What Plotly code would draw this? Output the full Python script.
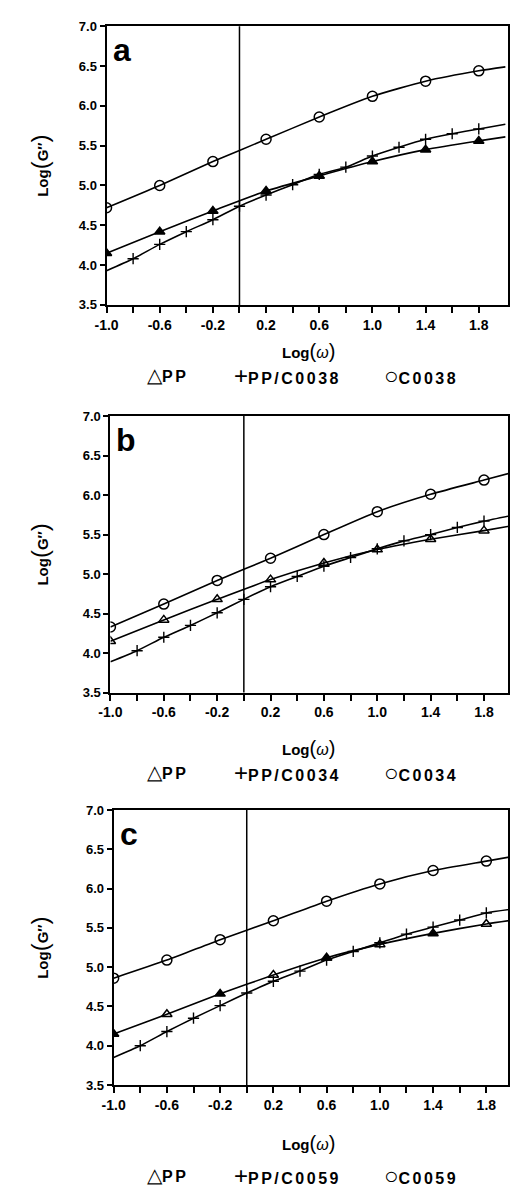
import plotly.graph_objects as go

# ---- data ----
x_main = [-1.0, -0.6, -0.2, 0.2, 0.6, 1.0, 1.4, 1.8, 2.0]
x_plus = [-1.0, -0.8, -0.6, -0.4, -0.2, 0.0, 0.2, 0.4, 0.6, 0.8, 1.0, 1.2, 1.4, 1.6, 1.8, 2.0]

# panel a
a_pp = [4.15, 4.42, 4.68, 4.93, 5.12, 5.30, 5.45, 5.56, 5.61]
a_blend = [3.93, 4.08, 4.26, 4.42, 4.57, 4.74, 4.88, 5.01, 5.14, 5.23, 5.37, 5.48, 5.58, 5.65, 5.71, 5.77]
a_c = [4.72, 5.00, 5.30, 5.58, 5.86, 6.12, 6.31, 6.44, 6.49]

# panel b
b_pp = [4.15, 4.42, 4.68, 4.93, 5.14, 5.31, 5.44, 5.55, 5.61]
b_blend = [3.89, 4.03, 4.20, 4.35, 4.51, 4.68, 4.84, 4.97, 5.10, 5.21, 5.32, 5.42, 5.50, 5.59, 5.67, 5.74]
b_c = [4.33, 4.62, 4.92, 5.20, 5.50, 5.79, 6.01, 6.19, 6.28]

# panel c
c_pp = [4.15, 4.40, 4.66, 4.90, 5.12, 5.29, 5.43, 5.55, 5.60]
c_blend = [3.85, 4.00, 4.18, 4.35, 4.51, 4.67, 4.82, 4.95, 5.09, 5.20, 5.31, 5.42, 5.51, 5.60, 5.69, 5.74]
c_c = [4.86, 5.09, 5.35, 5.59, 5.84, 6.06, 6.23, 6.35, 6.41]

panel_labels = ["a", "b", "c"]
blend_names = ["PP/C0038", "PP/C0034", "PP/C0059"]
comp_names = ["C0038", "C0034", "C0059"]
y_ticks = [3.5, 4.0, 4.5, 5.0, 5.5, 6.0, 6.5, 7.0]
x_major = [-1.0, -0.6, -0.2, 0.2, 0.6, 1.0, 1.4, 1.8]
x_labels = ["-1.0", "-0.6", "-0.2", "0.2", "0.6", "1.0", "1.4", "1.8"]
x_minor = [-0.8, -0.4, 0.0, 0.4, 0.8, 1.2, 1.6]

panels = [(a_pp, a_blend, a_c), (b_pp, b_blend, b_c), (c_pp, c_blend, c_c)]

# ---- layout geometry (pixels) ----
W, H = 510, 1192
geo = [
    dict(left=97, right=509, top=19.5, bottom=301.7, xmax=2.02, ttl=348, leg=373),
    dict(left=101, right=509, top=414.3, bottom=694.3, xmax=1.98, ttl=750, leg=775),
    dict(left=104.3, right=509, top=813.3, bottom=1091.7, xmax=1.963, ttl=1150, leg=1183),
]
pp_symbols = [
    ["triangle-up"] * 8,
    ["triangle-up-open"] * 8,
    ["triangle-up", "triangle-up-open", "triangle-up", "triangle-up-open",
     "triangle-up", "triangle-up-open", "triangle-up", "triangle-up-open"],
]

FONT = "Liberation Sans, Arial, sans-serif"
fig = go.Figure()
annotations = []
shapes = []

PAREN = "<span style='font-weight:normal;font-size:%dpx'>%s</span>"

for i, (pp, blend, comp) in enumerate(panels):
    n = "" if i == 0 else str(i + 1)
    xa, ya = "x" + n, "y" + n
    g = geo[i]
    line = dict(color="black", width=1.6, shape="spline", smoothing=0.6)
    for ys, xs in [(pp, x_main), (blend, x_plus), (comp, x_main)]:
        fig.add_trace(go.Scatter(x=xs, y=ys, mode="lines", line=line,
                                 xaxis=xa, yaxis=ya, showlegend=False, hoverinfo="skip"))
    fig.add_trace(go.Scatter(x=x_main[:-1], y=pp[:-1], mode="markers",
                             marker=dict(symbol=pp_symbols[i], size=9, color="black",
                                         line=dict(color="black", width=1.5)),
                             xaxis=xa, yaxis=ya, showlegend=False))
    fig.add_trace(go.Scatter(x=x_plus[1:-1], y=blend[1:-1], mode="markers",
                             marker=dict(symbol="line-ns", size=8, color="black",
                                         line=dict(color="black", width=1.4)),
                             xaxis=xa, yaxis=ya, showlegend=False))
    fig.add_trace(go.Scatter(x=x_plus[1:-1], y=blend[1:-1], mode="markers",
                             marker=dict(symbol="line-ew", size=8, color="black",
                                         line=dict(color="black", width=1.4)),
                             xaxis=xa, yaxis=ya, showlegend=False))
    fig.add_trace(go.Scatter(x=x_main[:-1], y=comp[:-1], mode="markers",
                             marker=dict(symbol="circle-open", size=10, color="black",
                                         line=dict(color="black", width=1.5)),
                             xaxis=xa, yaxis=ya, showlegend=False))

    xd = [g["left"] / W, g["right"] / W]
    yd = [1 - g["bottom"] / H, 1 - g["top"] / H]
    fig.update_layout(**{
        "xaxis" + n: dict(domain=xd, range=[-1.0, g["xmax"]], anchor=ya,
                          tickmode="array", tickvals=x_major, ticktext=x_labels,
                          ticks="outside", ticklen=6,
                          tickwidth=1.6, tickcolor="black", showline=True, linewidth=2,
                          linecolor="black", mirror=True, showgrid=False, zeroline=False,
                          minor=dict(tickmode="array", tickvals=x_minor, ticks="outside",
                                     ticklen=6, tickwidth=1.6, tickcolor="black",
                                     showgrid=False),
                          tickfont=dict(family=FONT, size=14, color="black", weight="bold")),
        "yaxis" + n: dict(domain=yd, range=[3.5, 7.0], anchor=xa,
                          tickvals=y_ticks, ticktext=[f"{v:.1f}" for v in y_ticks],
                          ticks="outside", ticklen=5, tickwidth=1.6, tickcolor="black",
                          showline=True, linewidth=2, linecolor="black", mirror=True,
                          showgrid=False, zeroline=False,
                          tickfont=dict(family=FONT, size=13, color="black", weight="bold")),
    })
    shapes.append(dict(type="line", xref=xa, yref=ya + " domain", x0=0, x1=0, y0=0, y1=1,
                       line=dict(color="black", width=1.5)))
    # panel letter
    annotations.append(dict(text=panel_labels[i], xref="paper", yref="paper",
                            x=(g["left"] + 16) / W, y=1 - (g["top"] + 24) / H,
                            xanchor="center", yanchor="middle", showarrow=False,
                            font=dict(family=FONT, size=32, color="black", weight="bold")))
    # y title
    annotations.append(dict(text="Log" + PAREN % (24, "(") + "G″" + PAREN % (24, ")"),
                            xref="paper", yref="paper", x=28 / W,
                            y=1 - (g["top"] + g["bottom"]) / 2 / H, textangle=-90,
                            xanchor="center", yanchor="middle", showarrow=False,
                            font=dict(family=FONT, size=15, color="black", weight="bold")))
    # x title
    annotations.append(dict(text="Log" + PAREN % (20, "(")
                            + "<span style='font-style:italic;font-weight:normal;font-size:16px'>ω</span>"
                            + PAREN % (20, ")"),
                            xref="paper", yref="paper", x=304 / W, y=1 - g["ttl"] / H,
                            xanchor="center", yanchor="middle", showarrow=False,
                            font=dict(family=FONT, size=15, color="black", weight="bold")))
    # legend row
    for sym, ssz, lab, xl in [("△", 20, "PP", 136), ("+", 24, blend_names[i], 226),
                              ("○", 24, comp_names[i], 380)]:
        annotations.append(dict(text=PAREN % (ssz, sym)
                                + "<span style='letter-spacing:2.5px;font-size:16px'>%s</span>" % lab,
                                xref="paper", yref="paper", x=xl / W,
                                y=1 - g["leg"] / H, xanchor="left", yanchor="middle",
                                showarrow=False,
                                font=dict(family=FONT, size=16, color="black", weight="bold")))

fig.update_layout(width=W, height=H, margin=dict(l=0, r=0, t=0, b=0),
                  paper_bgcolor="white", plot_bgcolor="white",
                  annotations=annotations, shapes=shapes)
fig.write_html("out.html", config={"displayModeBar": False},
               post_script="document.body.style.margin='0';document.body.style.overflow='hidden';")
